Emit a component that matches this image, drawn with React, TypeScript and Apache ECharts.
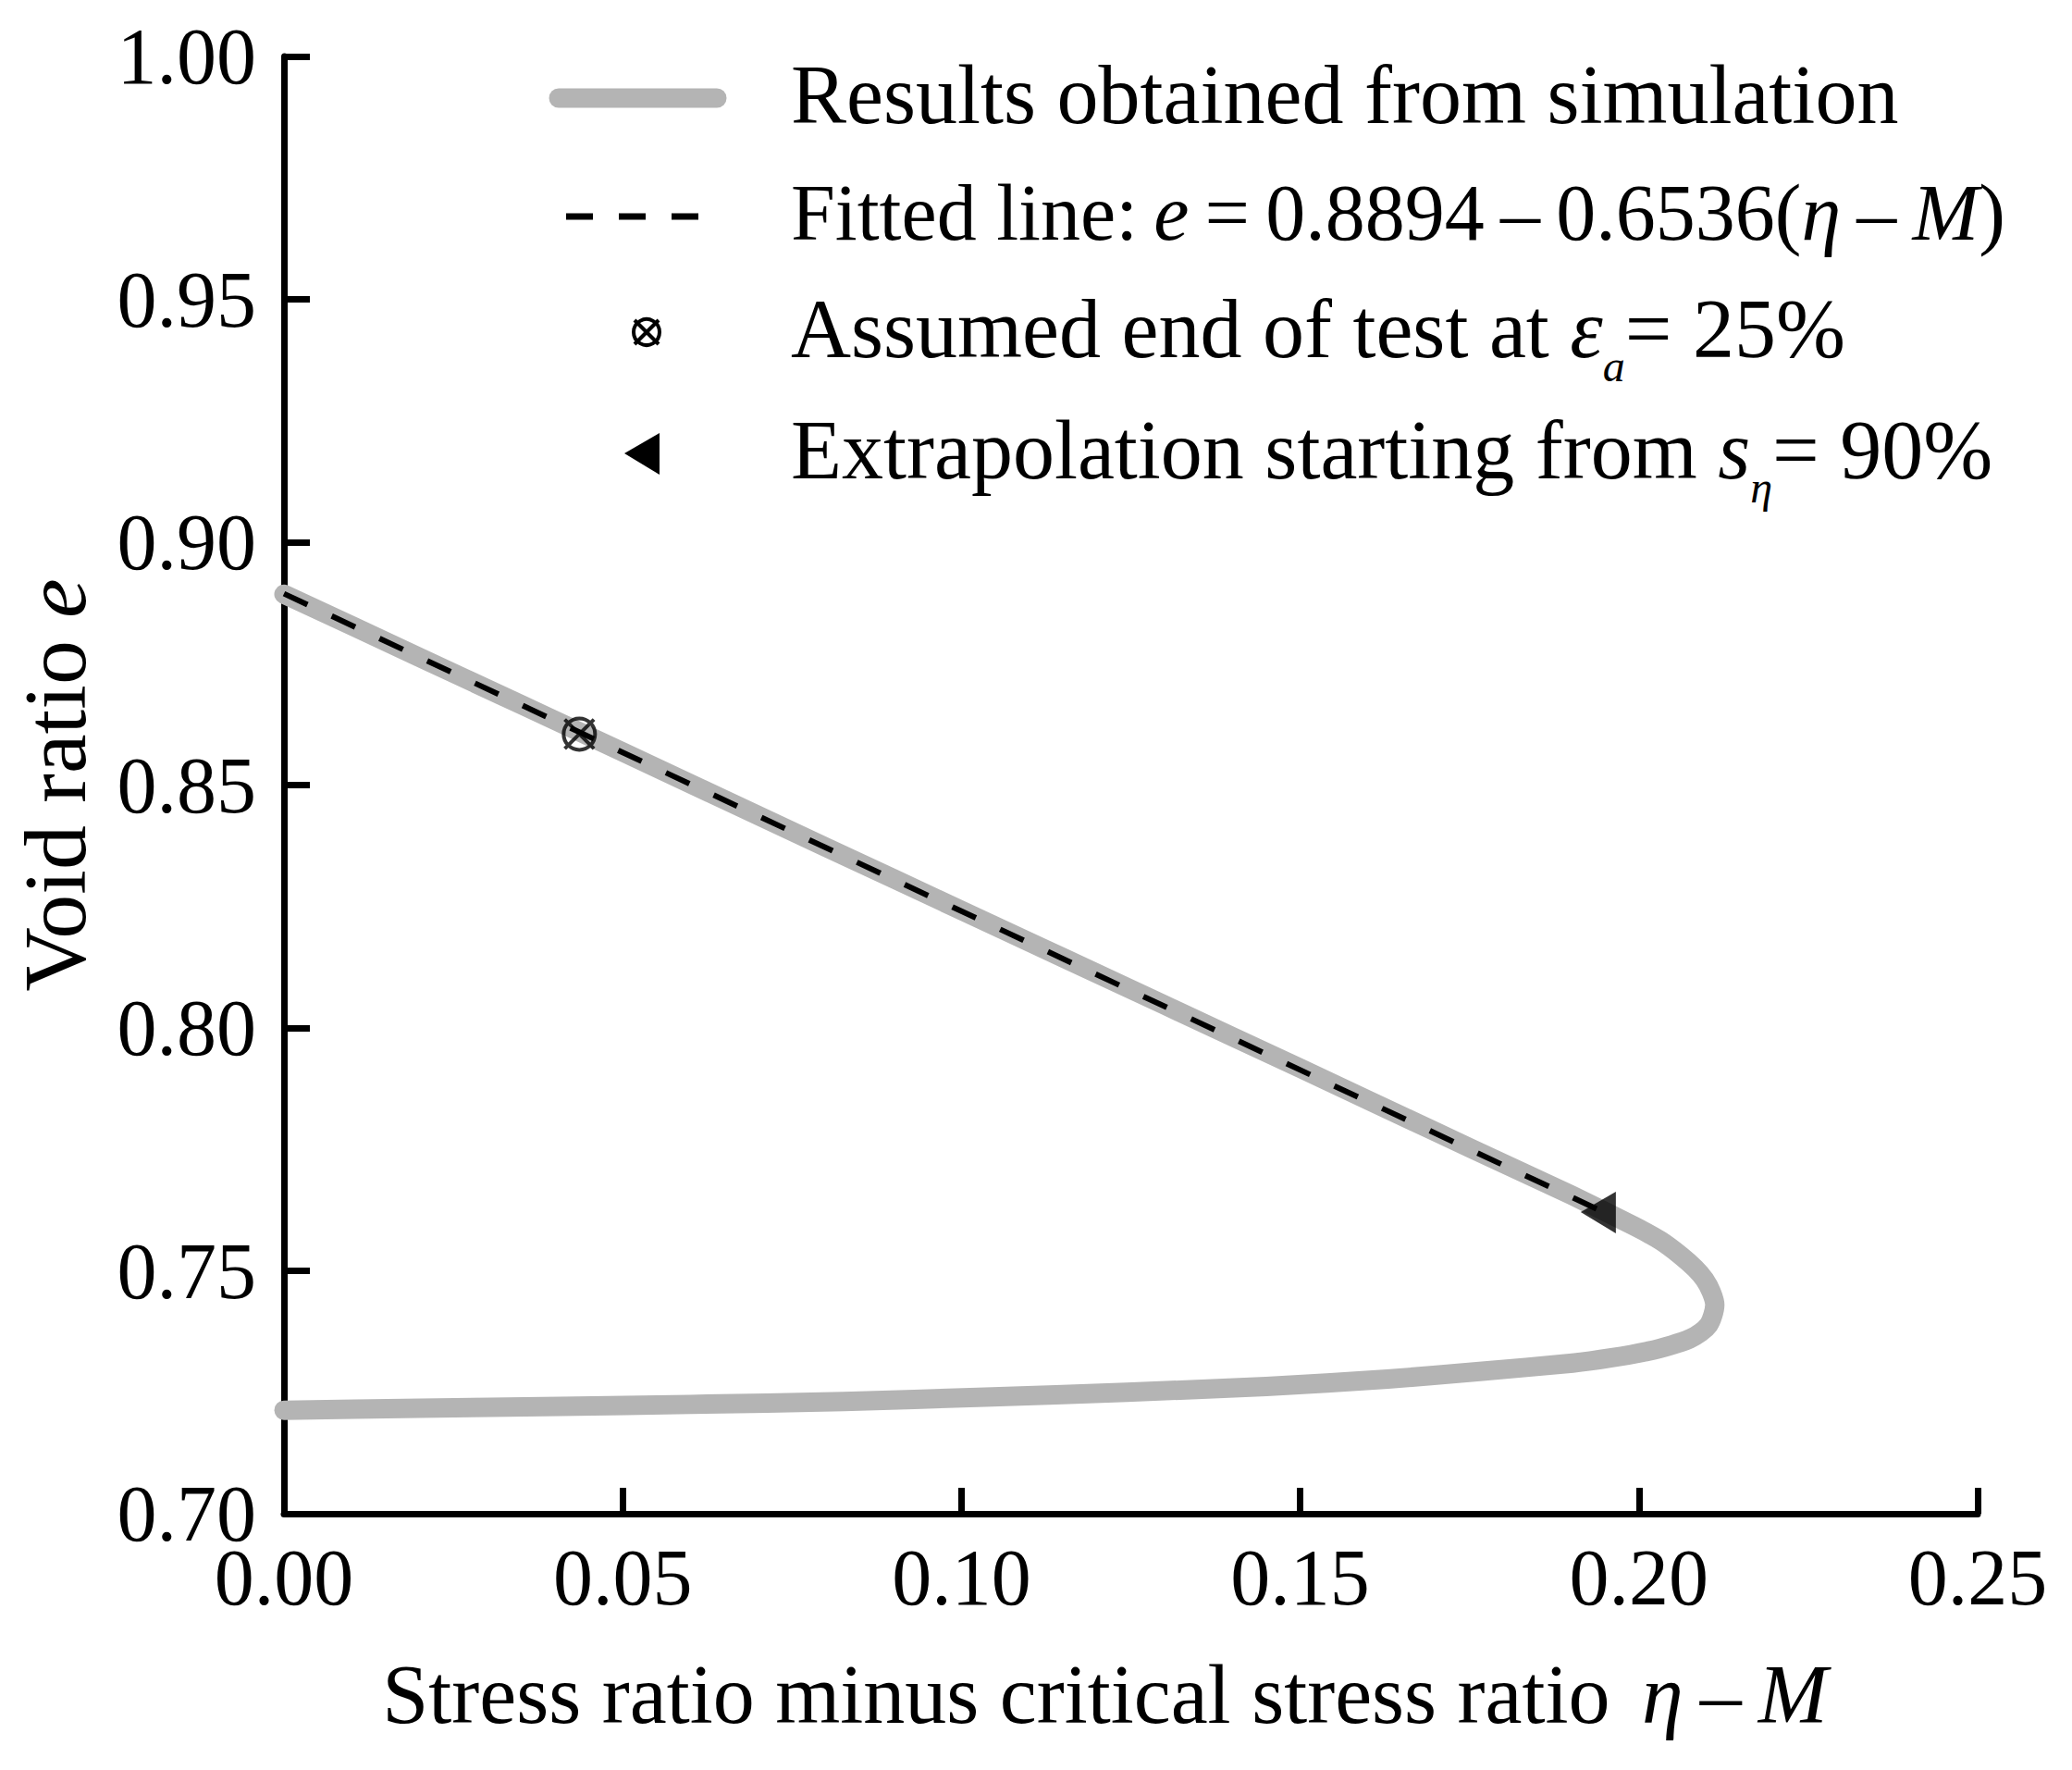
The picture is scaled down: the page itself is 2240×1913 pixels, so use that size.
import { useEffect, useRef } from 'react';
import * as echarts from 'echarts';

// simulation curve (void ratio vs eta - M), in drawing order
const simX = [
    0, 0.02, 0.05, 0.08, 0.1, 0.13, 0.15, 0.17, 0.18, 0.19, 0.1993, 0.2032, 0.2062, 0.2083, 0.2097, 0.2107, 0.2112,
    0.2109, 0.2103, 0.2091, 0.2075, 0.2048, 0.2015, 0.196, 0.1902, 0.1765, 0.1629, 0.145, 0.1244, 0.1035, 0.0826,
    0.06, 0.0408, 0.02, 0,
];
const simY = [
    0.8893, 0.8763, 0.8568, 0.8372, 0.8242, 0.8047, 0.7917, 0.7786, 0.7721, 0.7656, 0.7592, 0.7562, 0.7531, 0.7505,
    0.7482, 0.7456, 0.743, 0.7408, 0.7389, 0.7373, 0.736, 0.7347, 0.7335, 0.7321, 0.731, 0.7293, 0.7277, 0.7262,
    0.725, 0.724, 0.7231, 0.7225, 0.7221, 0.7217, 0.7213,
];

// fitted line end points
const fitX = [0, 0.194];
const fitY = [0.8894, 0.7626];

// markers
const endOfTest = [0.0436, 0.8605];
const extrapStart = [0.194, 0.762];

const xTicks = [0, 0.25, 0.05];
const yTicks = [0.7, 1.0, 0.05];

const legendLabels = [
    'Results obtained from simulation',
    'Fitted line:\u2009{i|e}\u2009=\u20090.8894\u2009\u2013\u20090.6536({i|\u03b7}\u2009\u2013\u2009{i|M})',
    'Assumed end of test at {i|\u03b5}{sub|a}= 25%',
    'Extrapolation starting from {i|s}{sub|\u03b7}= 90%',
];
const legendSizes = [90, 86, 90, 90];

const FONT = '"Liberation Serif", "Times New Roman", serif';
const GRAY = '#b4b4b4';
const CROSS_CIRCLE = 'path://M33,19A14,14 0 1 1 5,19A14,14 0 1 1 33,19Z M6,6L32,32 M32,6L6,32';
const LEFT_TRI = 'path://M0,22L38,0L38,45Z';

const richFor = (size: number) => ({
    i: { fontFamily: FONT, fontSize: size, fontStyle: 'italic', fill: '#000' },
    sub: { fontFamily: FONT, fontSize: 48, fontStyle: 'italic', fill: '#000', padding: [80, 0, 0, 0] },
});

export default function App() {
    const chartRef = useRef<HTMLDivElement>(null);

    useEffect(() => {
        if (!chartRef.current) return;
        document.body.style.margin = '0';
        const chart = echarts.init(chartRef.current, undefined, { renderer: 'svg' });

        const rowY = [106, 234, 359, 490];
        const textX = 855;

        const legendGraphics: any[] = [
            {
                type: 'line',
                shape: { x1: 604, y1: rowY[0], x2: 775, y2: rowY[0] },
                style: { stroke: GRAY, lineWidth: 21, lineCap: 'round' },
            },
            {
                type: 'line',
                shape: { x1: 612, y1: rowY[1], x2: 755, y2: rowY[1] },
                style: { stroke: '#000', lineWidth: 7, lineDash: [29, 28] },
            },
            {
                type: 'circle',
                shape: { cx: 699, cy: rowY[2], r: 14 },
                style: { fill: 'none', stroke: '#000', lineWidth: 4 },
            },
            {
                type: 'line',
                shape: { x1: 686, y1: rowY[2] - 13, x2: 712, y2: rowY[2] + 13 },
                style: { stroke: '#000', lineWidth: 4 },
            },
            {
                type: 'line',
                shape: { x1: 712, y1: rowY[2] - 13, x2: 686, y2: rowY[2] + 13 },
                style: { stroke: '#000', lineWidth: 4 },
            },
            {
                type: 'polygon',
                shape: { points: [[675, rowY[3]], [713, rowY[3] - 22], [713, rowY[3] + 23]] },
                style: { fill: '#000' },
            },
        ];
        legendLabels.forEach((label, idx) => {
            legendGraphics.push({
                type: 'text',
                x: textX,
                y: rowY[idx] - 4,
                style: {
                    text: label,
                    fontFamily: FONT,
                    fontSize: legendSizes[idx],
                    fill: '#000',
                    verticalAlign: 'middle',
                    align: 'left',
                    rich: richFor(legendSizes[idx]),
                },
            });
        });

        const option = {
            animation: false,
            grid: { left: 307, right: 102, top: 61, bottom: 277 },
            xAxis: {
                type: 'value',
                min: xTicks[0],
                max: xTicks[1],
                interval: xTicks[2],
                name: 'Stress ratio minus critical stress ratio {i|\u03b7\u2009\u2013\u2009M}',
                nameLocation: 'middle',
                nameGap: 150,
                nameTextStyle: {
                    fontFamily: FONT,
                    fontSize: 90,
                    color: '#000',
                    padding: [0, 56, 0, 0],
                    rich: {
                        i: { fontFamily: FONT, fontSize: 90, fontStyle: 'italic', color: '#000', padding: [0, 0, 0, 12] },
                    },
                },
                axisLine: { lineStyle: { color: '#000', width: 7 } },
                axisTick: { inside: true, length: 28, lineStyle: { color: '#000', width: 7 } },
                axisLabel: {
                    fontFamily: FONT,
                    fontSize: 86,
                    color: '#000',
                    margin: 26,
                    formatter: (v: number) => v.toFixed(2),
                },
                splitLine: { show: false },
            },
            yAxis: {
                type: 'value',
                min: yTicks[0],
                max: yTicks[1],
                interval: yTicks[2],
                name: 'Void ratio {i|e}',
                nameLocation: 'middle',
                nameGap: 200,
                nameTextStyle: {
                    fontFamily: FONT,
                    fontSize: 96,
                    color: '#000',
                    rich: {
                        i: { fontFamily: FONT, fontSize: 96, fontStyle: 'italic', color: '#000' },
                    },
                },
                axisLine: { lineStyle: { color: '#000', width: 7 } },
                axisTick: { inside: true, length: 28, lineStyle: { color: '#000', width: 7 } },
                axisLabel: {
                    fontFamily: FONT,
                    fontSize: 86,
                    color: '#000',
                    margin: 30,
                    formatter: (v: number) => v.toFixed(2),
                },
                splitLine: { show: false },
            },
            graphic: legendGraphics,
            series: [
                {
                    name: 'Results obtained from simulation',
                    type: 'line',
                    data: simX.map((x, i) => [x, simY[i]]),
                    showSymbol: false,
                    symbol: 'none',
                    smooth: 0.2,
                    lineStyle: { color: GRAY, width: 21, cap: 'round', join: 'round' },
                    z: 2,
                },
                {
                    name: 'Fitted line',
                    type: 'line',
                    data: fitX.map((x, i) => [x, fitY[i]]),
                    showSymbol: false,
                    symbol: 'none',
                    lineStyle: { color: '#000', width: 6, type: [28, 29] },
                    z: 3,
                },
                {
                    name: 'Assumed end of test',
                    type: 'scatter',
                    data: [endOfTest],
                    symbol: CROSS_CIRCLE,
                    symbolSize: 34,
                    itemStyle: { color: 'transparent', borderColor: '#000', borderWidth: 4 },
                    z: 4,
                },
                {
                    name: 'Extrapolation starting point',
                    type: 'scatter',
                    data: [extrapStart],
                    symbol: LEFT_TRI,
                    symbolSize: [38, 45],
                    itemStyle: { color: '#000' },
                    z: 4,
                },
            ],
        };

        chart.setOption(option);

        return () => {
            chart.dispose();
        };
    }, []);

    return <div ref={chartRef} style={{ width: 2240, height: 1913 }} />;
}
